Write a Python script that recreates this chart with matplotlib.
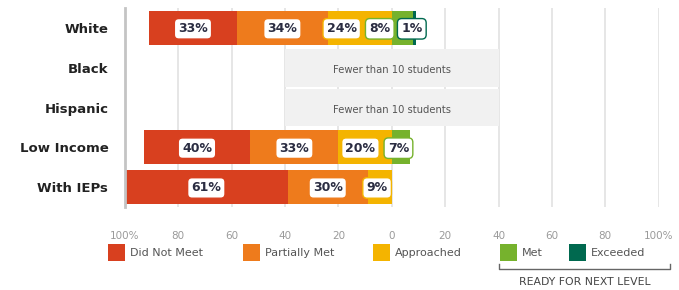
import numpy as np
import matplotlib
matplotlib.use("Agg")
import matplotlib.pyplot as plt
from matplotlib.patches import Rectangle

# dados (percentual de estudantes por nível)
grupos = ["White", "Black", "Hispanic", "Low Income", "With IEPs"]
did_not_meet = [33, np.nan, np.nan, 40, 61]
partially_met = [34, np.nan, np.nan, 33, 30]
approached = [24, np.nan, np.nan, 20, 9]
met = [8, np.nan, np.nan, 7, 0]
exceeded = [1, np.nan, np.nan, 0, 0]
suprimido = [False, True, True, False, False]
texto_suprimido = "Fewer than 10 students"

niveis = ["Did Not Meet", "Partially Met", "Approached", "Met", "Exceeded"]
cores = ["#d8401f", "#ee7b1c", "#f4b400", "#76b22d", "#00694f"]
cor_texto = "#2b2d42"

ticks = [-100, -80, -60, -40, -20, 0, 20, 40, 60, 80, 100]
tick_labels = ["100%", "80", "60", "40", "20", "0", "20", "40", "60", "80", "100%"]

fig = plt.figure(figsize=(6.79, 2.90), dpi=100)
ax = fig.add_axes([0.184, 0.286, 0.786, 0.686])
ax.set_xlim(-100, 100)
ax.set_ylim(len(grupos) - 0.5, -0.5)

for t in ticks:
    ax.axvline(t, color="#e6e6e6", lw=1.4, zorder=0)

altura = 0.85
for i, g in enumerate(grupos):
    if suprimido[i]:
        ax.add_patch(Rectangle((-40, i - 0.47), 80, 0.94, color="#f1f1f1", lw=0, zorder=1))
        ax.text(0, i + 0.05, texto_suprimido, ha="center", va="center", fontsize=7.2,
                color="#555555", zorder=2)
        continue

    # lado esquerdo: não prontos, empilhados a partir do zero
    esquerda = [did_not_meet[i], partially_met[i], approached[i]]
    direita = [met[i], exceeded[i]]
    segs = []
    pos = -sum(esquerda)
    for k, v in enumerate(esquerda):
        segs.append((pos, v, k))
        pos += v
    pos = 0
    for k, v in enumerate(direita):
        segs.append((pos, v, k + 3))
        pos += v

    for inicio, v, k in segs:
        if v > 0:
            ax.barh(i, v, left=inicio, height=altura, color=cores[k], lw=0, zorder=2)

    # rótulos: começam no centro e são empurrados para a esquerda se colidirem
    rot = [(inicio + v / 2, v, k) for inicio, v, k in segs if v > 0]
    larg = [6 + 4.5 * len(str(int(v))) for _, v, _ in rot]
    xs = [c for c, _, _ in rot]
    xs[-1] = min(xs[-1], rot[-1][0] - 1)
    for j in range(len(xs) - 2, -1, -1):
        limite = xs[j + 1] - larg[j + 1] / 2 - 1.5 - larg[j] / 2
        xs[j] = min(xs[j], limite)
    for (c, v, k), x in zip(rot, xs):
        ax.text(x, i + 0.02, f"{int(v)}%", ha="center", va="center", fontsize=9,
                fontweight="bold", color=cor_texto, zorder=4,
                bbox=dict(boxstyle="round,pad=0.3,rounding_size=0.35", fc="white",
                          ec=cores[k], lw=1.0))

ax.set_yticks(range(len(grupos)))
ax.set_yticklabels(grupos, fontsize=9.5, fontweight="bold", color="#222222")
ax.tick_params(axis="y", length=0, pad=12)
ax.set_xticks(ticks)
ax.set_xticklabels(tick_labels, fontsize=7.5, color="#9a9a9a")
ax.tick_params(axis="x", length=0, pad=17)
for s in ["top", "right", "bottom"]:
    ax.spines[s].set_visible(False)
ax.spines["left"].set_color("#c4c4c4")
ax.spines["left"].set_linewidth(2)

# legenda manual
leg_x = [108, 243, 373, 500, 569]
for nome, cor, x in zip(niveis, cores, leg_x):
    fig.patches.append(Rectangle((x / 679, 1 - 261 / 290), 17 / 679, 17 / 290,
                                 transform=fig.transFigure, color=cor, lw=0))
    fig.text((x + 22) / 679, 1 - 253 / 290, nome, ha="left", va="center",
             fontsize=8, color="#555555")

# colchete "ready for next level"
bx0, bx1, by = 499 / 679, 670 / 679, 1 - 269 / 290
fig.lines.append(plt.Line2D([bx0, bx0, bx1, bx1], [by + 0.018, by, by, by + 0.018],
                            transform=fig.transFigure, color="#666666", lw=1))
fig.text((bx0 + bx1) / 2, 1 - 282 / 290, "READY FOR NEXT LEVEL", ha="center",
         va="center", fontsize=7.8, color="#444444")

fig.savefig("out.png", dpi=100)
